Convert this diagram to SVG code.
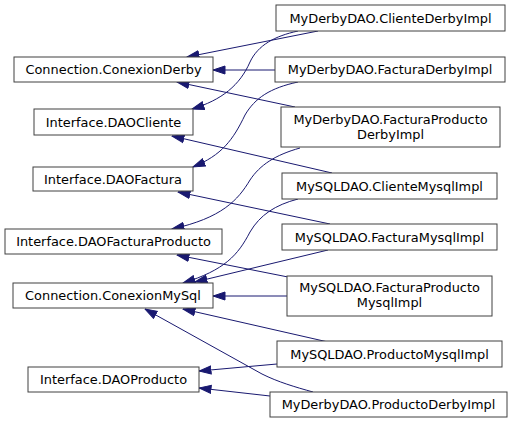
<svg xmlns="http://www.w3.org/2000/svg" width="515" height="424" viewBox="0 0 515 424">
<style>
.n rect{fill:#fff;stroke:#404040;stroke-width:1}
.n text{font-family:"DejaVu Sans",sans-serif;font-size:12.9px;fill:#000;text-anchor:middle}
.e path{fill:none;stroke:#191970;stroke-width:1;marker-end:url(#ah)}
</style>
<defs>
<marker id="ah" markerUnits="userSpaceOnUse" markerWidth="13" markerHeight="10" refX="12.5" refY="5" orient="auto">
<path d="M0.5,1 L12.5,5 L0.5,9 z" fill="#191970" stroke="#191970" stroke-width="1"/>
</marker>
</defs>
<rect width="515" height="424" fill="#fff"/>
<g class="e" id="edges">
<path d="M318,31 L187,57"/>
<path d="M298,31 C275,36 258,45 250,62 C240,85 222,100 192,109"/>
<path d="M275,70 L213,70"/>
<path d="M298,82 C270,88 255,98 245,115 C233,140 222,155 193,167"/>
<path d="M295,107 L177,82"/>
<path d="M300,148 C275,155 260,165 250,180 C238,200 222,218 172,229"/>
<path d="M332,173 L172,136"/>
<path d="M298,199 C275,205 260,215 250,232 C238,255 225,270 183,283"/>
<path d="M330,224 L178,192"/>
<path d="M328,250 L195,282"/>
<path d="M288,277 L177,255"/>
<path d="M287,296 L213,296"/>
<path d="M328,342 L183,309"/>
<path d="M277,364 L199,371"/>
<path d="M313,392 C295,387 278,382 262,374 L145,309"/>
<path d="M270,396 L199,388"/>
</g>
<g class="n" id="conexionDerby"><rect x="14" y="57" width="199" height="25"/><text x="113.5" y="74">Connection.ConexionDerby</text></g>
<g class="n" id="daoCliente"><rect x="34" y="109" width="159" height="26"/><text x="113.5" y="126.5">Interface.DAOCliente</text></g>
<g class="n" id="daoFactura"><rect x="33" y="167" width="160" height="24"/><text x="113" y="183.5">Interface.DAOFactura</text></g>
<g class="n" id="daoFacturaProducto"><rect x="5" y="229" width="217" height="25"/><text x="113.5" y="246">Interface.DAOFacturaProducto</text></g>
<g class="n" id="conexionMySql"><rect x="13" y="283" width="200" height="25"/><text x="113" y="300">Connection.ConexionMySql</text></g>
<g class="n" id="daoProducto"><rect x="28" y="367" width="171" height="25"/><text x="113.5" y="384">Interface.DAOProducto</text></g>
<g class="n" id="clienteDerbyImpl"><rect x="276" y="5" width="229" height="26"/><text x="390.5" y="23">MyDerbyDAO.ClienteDerbyImpl</text></g>
<g class="n" id="facturaDerbyImpl"><rect x="275" y="57" width="230" height="25"/><text x="390" y="74">MyDerbyDAO.FacturaDerbyImpl</text></g>
<g class="n" id="facturaProductoDerbyImpl"><rect x="281" y="107" width="219" height="40"/><text x="390.5" y="124">MyDerbyDAO.FacturaProducto</text><text x="390.5" y="139">DerbyImpl</text></g>
<g class="n" id="clienteMysqlImpl"><rect x="282" y="173" width="215" height="26"/><text x="389.5" y="190.5">MySQLDAO.ClienteMysqlImpl</text></g>
<g class="n" id="facturaMysqlImpl"><rect x="282" y="224" width="215" height="26"/><text x="389.5" y="241.5">MySQLDAO.FacturaMysqlImpl</text></g>
<g class="n" id="facturaProductoMysqlImpl"><rect x="287" y="276" width="205" height="40"/><text x="389.5" y="292">MySQLDAO.FacturaProducto</text><text x="389.5" y="307">MysqlImpl</text></g>
<g class="n" id="productoMysqlImpl"><rect x="277" y="341" width="225" height="26"/><text x="389.5" y="358.5">MySQLDAO.ProductoMysqlImpl</text></g>
<g class="n" id="productoDerbyImpl"><rect x="270" y="392" width="237" height="25"/><text x="388.5" y="409">MyDerbyDAO.ProductoDerbyImpl</text></g>
</svg>
